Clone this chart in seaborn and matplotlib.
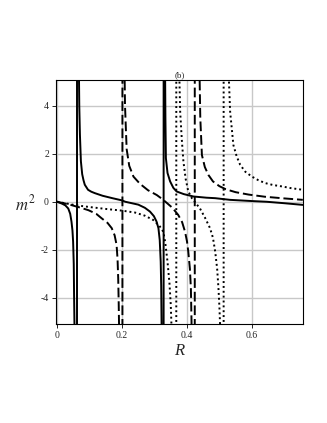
import numpy as np
import pandas as pd
import seaborn as sns
import matplotlib.pyplot as plt

# 값은 그림에서 읽은 값 (극에서는 +-50 으로 이어서 세로선이 되게 함)
r_solid = [0.0, 0.015, 0.025, 0.034, 0.04, 0.044, 0.047, 0.049, 0.051, 0.052, 0.0535, 0.061,
           0.061, 0.0665, 0.068, 0.07, 0.073, 0.077, 0.081, 0.085, 0.095, 0.105, 0.116, 0.14,
           0.17, 0.199, 0.21, 0.25, 0.27, 0.286, 0.298, 0.306, 0.312, 0.316, 0.319, 0.3205,
           0.322, 0.328,
           0.328, 0.3325, 0.3335, 0.335, 0.34, 0.348, 0.358, 0.368, 0.39, 0.42, 0.46, 0.487,
           0.533, 0.6, 0.646, 0.7, 0.757]
m_solid = [0.0, -0.08, -0.15, -0.28, -0.5, -0.83, -1.2, -1.66, -2.6, -3.9, -5.5, -50,
           50, 6.0, 4.0, 2.8, 1.69, 1.15, 0.9, 0.71, 0.5, 0.42, 0.36, 0.25,
           0.15, 0.06, 0.0, -0.12, -0.25, -0.41, -0.6, -0.82, -1.1, -1.6, -2.5, -3.5,
           -5.5, -50,
           50, 5.5, 3.5, 1.82, 1.2, 0.85, 0.58, 0.43, 0.32, 0.22, 0.17, 0.15,
           0.08, 0.03, 0.0, -0.06, -0.13]

r_dash = [0.0, 0.02, 0.044, 0.07, 0.096, 0.12, 0.137, 0.155, 0.168, 0.177, 0.183, 0.186,
          0.188, 0.1895, 0.191, 0.201,
          0.201, 0.207, 0.209, 0.214, 0.222, 0.235, 0.255, 0.28, 0.307, 0.325, 0.338, 0.355,
          0.373, 0.385, 0.394, 0.4, 0.404, 0.409, 0.412, 0.414, 0.424,
          0.424, 0.4385, 0.441, 0.446, 0.455, 0.466, 0.48, 0.5, 0.52, 0.55, 0.59, 0.64,
          0.7, 0.757]
m_dash = [0.0, -0.06, -0.14, -0.24, -0.35, -0.5, -0.69, -0.88, -1.1, -1.4, -1.8, -2.4,
          -3.2, -4.2, -5.5, -50,
          50, 6.0, 4.0, 2.2, 1.5, 1.05, 0.75, 0.48, 0.28, 0.1, -0.05, -0.25,
          -0.55, -0.85, -1.25, -1.65, -2.08, -2.8, -3.6, -5.0, -50,
          50, 5.5, 3.5, 1.95, 1.45, 1.12, 0.85, 0.65, 0.52, 0.4, 0.3, 0.21,
          0.14, 0.08]

r_dot = [0.0, 0.055, 0.1, 0.15, 0.2, 0.24, 0.27, 0.296, 0.315, 0.327, 0.333, 0.34, 0.346,
         0.35, 0.353, 0.367,
         0.367, 0.376, 0.379, 0.384, 0.389, 0.396, 0.404, 0.415, 0.425, 0.44, 0.455, 0.471,
         0.48, 0.487, 0.493, 0.497, 0.5, 0.503, 0.513,
         0.513, 0.528, 0.533, 0.543, 0.553, 0.564, 0.58, 0.6, 0.62, 0.641, 0.665, 0.693,
         0.72, 0.757]
m_dot = [0.0, -0.14, -0.22, -0.3, -0.37, -0.45, -0.58, -0.76, -1.0, -1.25, -1.7, -2.5, -3.4,
         -4.3, -5.5, -50,
         50, 5.5, 3.76, 2.6, 1.68, 0.95, 0.43, 0.15, -0.02, -0.28, -0.65, -1.1,
         -1.5, -2.08, -2.8, -3.6, -4.4, -5.5, -50,
         50, 5.5, 3.76, 2.37, 1.9, 1.54, 1.25, 1.05, 0.9, 0.78, 0.7, 0.64,
         0.57, 0.5]

x_ticks = [0, 0.2, 0.4, 0.6]
x_ticklabels = ['0', '0.2', '0.4', '0.6']
y_ticks = [-4, -2, 0, 2, 4]
y_ticklabels = ['-4', '-2', '0', '2', '4']

sns.set_style('whitegrid', {'grid.color': '#c8c8c8', 'axes.edgecolor': 'black'})
plt.rcParams['font.family'] = ['Liberation Serif', 'DejaVu Serif']
plt.rcParams['mathtext.fontset'] = 'stix'

df = pd.concat([
    pd.DataFrame({'R': r_solid, 'm2': m_solid, 'kind': 'solid'}),
    pd.DataFrame({'R': r_dash, 'm2': m_dash, 'kind': 'dash'}),
    pd.DataFrame({'R': r_dot, 'm2': m_dot, 'kind': 'dot'}),
], ignore_index=True)

fig = plt.figure(figsize=(3.27, 4.23), dpi=100)
ax = fig.add_axes([0.171, 0.234, 0.755, 0.578])

dash_map = {'solid': '', 'dash': (5, 2), 'dot': (1, 1.5)}
for kind in ['solid', 'dash', 'dot']:
    sub = df[df['kind'] == kind]
    sns.lineplot(data=sub, x='R', y='m2', sort=False, estimator=None, ax=ax,
                 color='black', linewidth=1.4)
    line = ax.lines[-1]
    if dash_map[kind]:
        line.set_dashes(dash_map[kind])

ax.set_xlim(-0.004, 0.757)
ax.set_ylim(-5.1, 5.1)
ax.set_xticks(x_ticks)
ax.set_xticklabels(x_ticklabels)
ax.set_yticks(y_ticks)
ax.set_yticklabels(y_ticklabels)
ax.grid(True, linewidth=1.0)
ax.tick_params(axis='both', which='both', direction='out', length=3, width=0.6,
               labelsize=7, color='black', left=True, bottom=True, pad=2)
for sp in ax.spines.values():
    sp.set_linewidth(0.8)
    sp.set_color('black')

ax.set_xlabel('R', fontsize=12, style='italic', labelpad=2)
ax.set_ylabel('$m^2$', fontsize=12, rotation=0, ha='center', va='center')
ax.yaxis.set_label_coords(-0.125, 0.49)
ax.set_title('(b)', fontsize=6.5, pad=1)

plt.savefig('out.png', dpi=100)
